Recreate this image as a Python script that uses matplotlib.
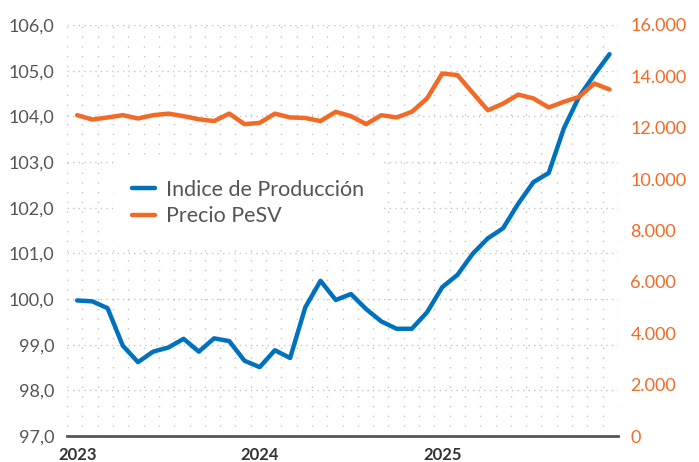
import numpy as np
import matplotlib
matplotlib.use("Agg")
import matplotlib.pyplot as plt
from matplotlib.ticker import FuncFormatter

plt.rcParams['font.family'] = ['Lato', 'DejaVu Sans']

# monthly data, Jan 2023 .. Dec 2025
indice = [99.97, 99.95, 99.80, 98.98, 98.62, 98.85, 98.94, 99.13, 98.85, 99.14,
          99.08, 98.65, 98.51, 98.88, 98.71, 99.82, 100.40, 99.98, 100.11, 99.78,
          99.51, 99.35, 99.35, 99.71, 100.26, 100.53, 100.99, 101.33, 101.55, 102.09,
          102.56, 102.76, 103.74, 104.43, 104.91, 105.36]
precio = [12490, 12320, 12400, 12490, 12360, 12490, 12550, 12450, 12330, 12260,
          12550, 12140, 12190, 12550, 12400, 12380, 12260, 12620, 12450, 12140,
          12490, 12400, 12620, 13140, 14110, 14050, 13360, 12680, 12940, 13290,
          13140, 12790, 13010, 13200, 13720, 13490]
years = ["2023", "2024", "2025"]
year_pos = [0, 12, 24]

BLUE = "#0071bc"
ORANGE = "#f26a25"
GRID = "#c4c4c4"
TXT = "#555555"

x = np.arange(len(indice))

fig = plt.figure(figsize=(6.99, 4.62), dpi=100)
ax = fig.add_axes([0.096, 0.056, 0.788, 0.89])
xmin, xmax = -0.66, 35.55
ax.set_xlim(xmin, xmax)
ax.set_ylim(97, 106)

# dotted grid
for yv in range(98, 107):
    ax.axhline(yv, color=GRID, lw=1, ls=(0, (1, 3)), zorder=0)
for xv in np.linspace(xmin, xmax, 37):
    ax.axvline(xv, color=GRID, lw=1, ls=(0, (1, 6)), zorder=0)

l1, = ax.plot(x, indice, color=BLUE, lw=3.2, solid_capstyle='round',
              solid_joinstyle='round', label="Indice de Producción", zorder=3)

ax2 = ax.twinx()
ax2.set_ylim(0, 16000)
l2, = ax2.plot(x, precio, color=ORANGE, lw=3.2, solid_capstyle='round',
               solid_joinstyle='round', label="Precio PeSV", zorder=3)

for a in (ax, ax2):
    for s in ("top", "left", "right"):
        a.spines[s].set_visible(False)
ax2.spines["bottom"].set_visible(False)
ax.spines["bottom"].set_color("#555555")
ax.spines["bottom"].set_linewidth(2)

ax.set_yticks(range(97, 107))
ax.yaxis.set_major_formatter(FuncFormatter(lambda v, p: f"{v:.1f}".replace(".", ",")))
ax.tick_params(axis='y', length=0, pad=9, labelsize=13, labelcolor=TXT)

ax2.set_yticks(range(0, 16001, 2000))
ax2.yaxis.set_major_formatter(FuncFormatter(lambda v, p: f"{int(v):,}".replace(",", ".")))
ax2.tick_params(axis='y', length=0, pad=9, labelsize=13, labelcolor=ORANGE)

ax.set_xticks(year_pos)
ax.set_xticklabels(years, fontweight='bold', fontsize=12, color="#333333")
ax.tick_params(axis='x', length=0, pad=8)

leg = ax2.legend(handles=[l1, l2], loc='center left', bbox_to_anchor=(0.083, 0.567),
                 prop={'size': 15.5}, frameon=True,
                 facecolor='white', edgecolor='none', framealpha=1,
                 handlelength=1.07, handletextpad=0.5, labelspacing=0.3,
                 borderpad=0.9, borderaxespad=0)
for t in leg.get_texts():
    t.set_color(TXT)

fig.savefig("out.png", dpi=100)
